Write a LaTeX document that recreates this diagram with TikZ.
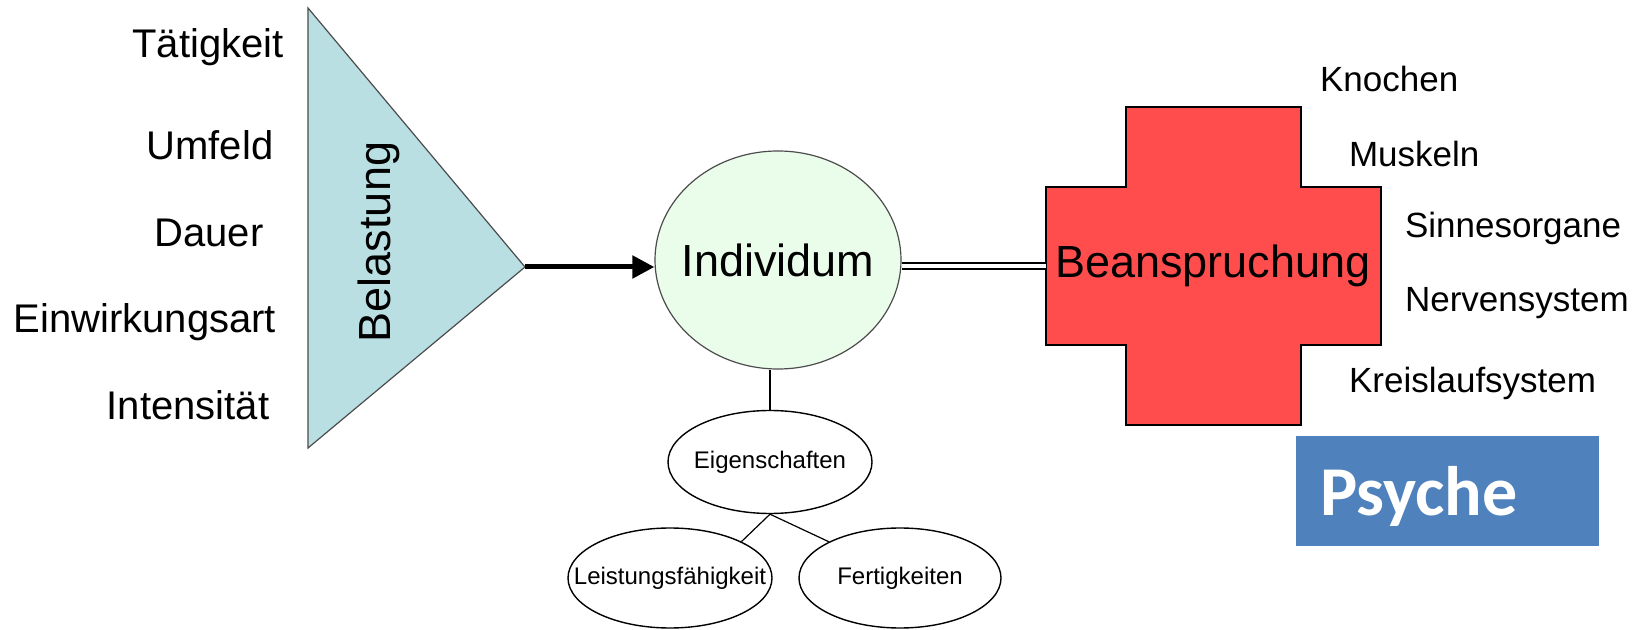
\documentclass[tikz,border=0pt]{standalone}
\usepackage{fontspec}
\setmainfont{Liberation Sans}
\newfontfamily\psychefont{Carlito}
\usetikzlibrary{shapes.geometric, arrows.meta}
\definecolor{belastblau}{RGB}{185,223,227}
\definecolor{indivgruen}{RGB}{234,253,234}
\definecolor{kreuzrot}{RGB}{255,77,77}
\definecolor{psycheblau}{RGB}{79,129,189}
% text without width, so the ellipse keeps its own size
\newcommand*\flach[1]{\makebox[0pt]{#1}}

\begin{document}
\begin{tikzpicture}[x=0.5pt, y=-0.5pt,
  links/.style={anchor=base, font=\fontsize{20}{24}\selectfont},
  rechts/.style={anchor=base west, font=\fontsize{17.5}{21}\selectfont},
  gross/.style={font=\fontsize{22.5}{26}\selectfont},
  blase/.style={draw, ellipse, line width=0.7pt, inner sep=0pt, font=\fontsize{12}{14}\selectfont}]

\useasboundingbox (0,0) rectangle (1639,630);

% Belastung
\draw[draw=black!70, line width=0.6pt, fill=belastblau] (308,8) -- (525,267) coordinate (spitze) -- (308,448) -- cycle;
\draw (390,242) node[gross, rotate=90, anchor=base] (belastung) {Belastung};

\draw (208,58) node[links] (taetigkeit) {Tätigkeit};
\draw (210,160) node[links] (umfeld) {Umfeld};
\draw (209,247) node[links] (dauer) {Dauer};
\draw (145,333) node[links] (einwirkung) {Einwirkungsart};
\draw (188,420) node[links] (intensitaet) {Intensität};

% Individum
\node[ellipse, draw=black!70, line width=0.6pt, fill=indivgruen, inner sep=0pt,
      minimum width=123pt, minimum height=109pt, gross] (indiv) at (778,260) {\flach{Individum}};
\draw[line width=2.5pt, -{Triangle[length=11pt, width=11pt]}] (spitze) -- (spitze -| indiv.west);

% Beanspruchung
\draw[fill=kreuzrot, line width=0.8pt] (1046,187) -- (1126,187) -- (1126,107) -- (1301,107)
  -- (1301,187) -- (1381,187) -- (1381,345) -- (1301,345) -- (1301,425) -- (1126,425)
  -- (1126,345) -- (1046,345) -- cycle;
\coordinate (kreuz) at (1046,266);
\draw (1213,278) node[gross, anchor=base] (beanspruchung) {Beanspruchung};
\draw[double, double distance=2.2pt, line width=0.7pt] (indiv.east |- kreuz) -- (kreuz);

\draw (1313,92) node[rechts] (knochen) {Knochen};
\draw (1342,167) node[rechts] (muskeln) {Muskeln};
\draw (1398,238) node[rechts] (sinne) {Sinnesorgane};
\draw (1398,312) node[rechts] (nerven) {Nervensystem};
\draw (1342,393) node[rechts] (kreislauf) {Kreislaufsystem};

% Eigenschaften
\node[blase, minimum width=102pt, minimum height=51.5pt] (eigen) at (770,462) {\flach{Eigenschaften}};
\node[blase, minimum width=102pt, minimum height=50pt] (leist) at (670,578) {\flach{Leistungsfähigkeit}};
\node[blase, minimum width=101pt, minimum height=50pt] (fert) at (900,578) {\flach{Fertigkeiten}};
\draw[line width=0.6pt] (eigen.north) -- (eigen.north |- indiv.south);
\draw[line width=0.6pt] (eigen.south) -- (leist.27);
\draw[line width=0.6pt] (eigen.south) -- (fert.153);

% Psyche
\node[fill=psycheblau, text=white, font=\psychefont\bfseries\fontsize{35}{40}\selectfont,
      text width=127.5pt, inner xsep=12pt, inner ysep=0pt, minimum height=55pt,
      text depth=0pt, align=left] (psyche) at (1447.5,491) {Psyche};
\end{tikzpicture}
\end{document}
